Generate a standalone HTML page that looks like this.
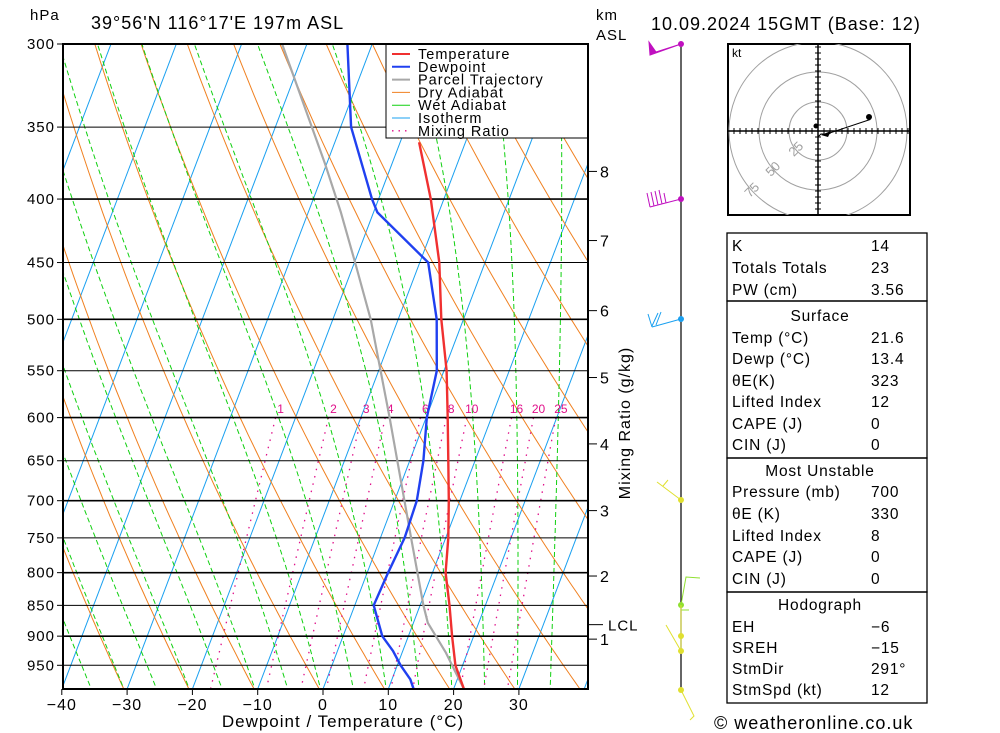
<!DOCTYPE html>
<html><head><meta charset="utf-8"><style>
html,body{margin:0;padding:0;background:#fff;}
svg{display:block;font-family:"Liberation Sans",sans-serif;}
</style></head><body>
<svg id="chart" width="1000" height="733" viewBox="0 0 1000 733" xmlns="http://www.w3.org/2000/svg">
<defs><clipPath id="plotclip"><rect x="63" y="44" width="525" height="645"/></clipPath>
<clipPath id="hodoclip"><rect x="728" y="44" width="182" height="171"/></clipPath></defs>
<g id="bg" clip-path="url(#plotclip)"></g>
<g id="plines"></g>
<g id="series" clip-path="url(#plotclip)"></g>
<g id="legend">
 <rect x="386" y="44" width="202" height="94" fill="#fff" stroke="#000" stroke-width="1"/>
</g>
<rect x="63" y="44" width="525" height="645" fill="none" stroke="#000" stroke-width="2"/>
<g id="axes"></g>
<g font-size="17" fill="#000" letter-spacing="1">
 <text x="30" y="20" font-size="15">hPa</text>
 <text x="91" y="29" font-size="18">39°56'N  116°17'E  197m  ASL</text>
 <text x="596" y="20" font-size="15">km</text>
 <text x="596" y="40" font-size="15">ASL</text>
 <text x="651" y="30" font-size="18">10.09.2024  15GMT  (Base: 12)</text>
 <text x="343" y="727" font-size="17" text-anchor="middle">Dewpoint / Temperature (°C)</text>
 <text transform="translate(630,423) rotate(-90)" font-size="16" text-anchor="middle">Mixing Ratio (g/kg)</text>
 <text x="714" y="729" font-size="18">© weatheronline.co.uk</text>
</g>
<g id="wind"></g>
<g id="hodo"></g>
<g id="table" font-size="15.5" letter-spacing="0.8"></g>
</svg>
<script>
const NS="http://www.w3.org/2000/svg";
// ---- data ----
const tempP=[360,400,450,500,550,600,650,700,750,800,850,900,950,993];
const tempT=[-17.1,-12.0,-7.0,-3.4,0.4,3.3,5.9,8.3,10.4,12.0,14.5,16.7,18.9,21.6];
const dewP=[300,350,400,410,450,500,550,600,650,700,750,800,850,900,925,950,975,993];
const dewT=[-33.8,-28.4,-21.0,-19.4,-8.7,-4.1,-1.1,0.1,2.1,3.4,3.7,3.2,2.9,6.0,8.5,10.5,12.8,13.9];
const parcelP=[300,375,410,450,500,600,750,850,878,928,993];
const parcelT=[-43.8,-30.2,-25.0,-19.9,-14.2,-5.6,4.7,10.5,12.2,16.7,21.6];
const pTicks=[300,350,400,450,500,550,600,650,700,750,800,850,900,950];
const tTicks=[-40,-30,-20,-10,0,10,20,30];
const kmLabels=["8","7","6","5","4","3","2","1"];
const kmP=[380,432,492,557,630,713,805,905];
const mixRatios=[1,2,3,4,6,8,10,16,20,25];
const lclP=881;
// ---- scales ----
function yP(p){return 44+539*Math.log(p/300);}
function xT(t,p){return 323+6.53*t+0.38*(689-yP(p));}
function mk(tag,attrs,parent){const e=document.createElementNS(NS,tag);for(const k in attrs)e.setAttribute(k,attrs[k]);parent.appendChild(e);return e;}
function pathFrom(pts){return pts.map((q,i)=>(i?'L':'M')+q[0].toFixed(1)+' '+q[1].toFixed(1)).join(' ');}
const bg=document.getElementById('bg');
for(let t=-130;t<=50;t+=10){
 const l=mk('line',{x1:xT(t,1000),y1:yP(1000),x2:xT(t,280),y2:yP(280),stroke:'#1aa0f0','stroke-width':1},bg);
 
 
}
for(let th=-60;th<=220;th+=10){
 const pts=[];for(let p=1000;p>=280;p-=10){pts.push([xT((th+273.15)*Math.pow(p/1000,0.286)-273.15,p),yP(p)]);}
 const e=mk('path',{d:pathFrom(pts),fill:'none',stroke:'#f08020','stroke-width':1},bg);
 
 
}
function es(T){return 6.112*Math.exp(17.67*(T-273.15)/(T-29.65));}
function wl(T,p){const e=es(T),rs=0.622*e/(p-e);return (287*T+2.5e6*rs)/(p*(1004+2.5e6*2.5e6*rs*0.622/(287*T*T)));}
for(let tw=-35;tw<=35;tw+=5){
 let T=tw+273.15,pts=[];
 for(let p=1000;p>=280;p-=5){pts.push([xT(T-273.15,p),yP(p)]);T-=wl(T,p)*5;}
 const e=mk('path',{d:pathFrom(pts),fill:'none',stroke:'#10d010','stroke-width':1,'stroke-dasharray':'5,3'},bg);
 
 
}
function tdFromW(w,p){const e=w*p/(622+w),l=Math.log(e/6.112);return 243.5*l/(17.67-l);}
mixRatios.forEach(w=>{
 const pts=[];for(let p=600;p<=1000;p+=10)pts.push([xT(tdFromW(w,p),p),yP(p)]);
 const e=mk('path',{d:pathFrom(pts),fill:'none',stroke:'#e0108a','stroke-width':1.3,'stroke-dasharray':'1.5,6'},bg);
 
 
 const t=mk('text',{x:xT(tdFromW(w,600),600)+5,y:413,'font-size':12,fill:'#e0108a','text-anchor':'middle'},bg);
 t.textContent=w;
 
 
});
const pl=document.getElementById('plines'),ax=document.getElementById('axes');
pTicks.forEach(p=>{
 const y=yP(p);
 const l=mk('line',{x1:63,y1:y,x2:588,y2:y,stroke:'#000','stroke-width':(p%100===0?1.6:1)},pl);
 
 
 mk('line',{x1:57,y1:y,x2:63,y2:y,stroke:'#000','stroke-width':1},ax);
 const t=mk('text',{x:55,y:y+5,'font-size':15,'text-anchor':'end','letter-spacing':1},ax);
 t.textContent=p;
 
 
});
tTicks.forEach(v=>{
 const x=323+6.53*v;
 mk('line',{x1:x,y1:689,x2:x,y2:695,stroke:'#000'},ax);
 const t=mk('text',{x:x,y:710,'font-size':16,'text-anchor':'middle','letter-spacing':1},ax);
 t.textContent=(v<0?'\u2212':'')+Math.abs(v);
 
 
});
kmLabels.forEach((k,i)=>{
 const y=yP(kmP[i]);
 mk('line',{x1:588,y1:y,x2:597,y2:y,stroke:'#000'},ax);
 const t=mk('text',{x:600,y:y+6,'font-size':16},ax);
 t.textContent=k;
 
 
});
{const y=yP(lclP);mk('line',{x1:588,y1:y,x2:603,y2:y,stroke:'#000'},ax);
 const t=mk('text',{x:608,y:y+6,'font-size':15,'letter-spacing':1},ax);t.textContent='LCL';
 
 }
const sr=document.getElementById('series');
function drawSeries(P,T,color,w,name){
 const e=mk('path',{d:pathFrom(P.map((p,i)=>[xT(T[i],p),yP(p)])),fill:'none',stroke:color,'stroke-width':w,'stroke-linejoin':'round'},sr);
 
 
}
drawSeries(parcelP,parcelT,'#a8a8a8',2.2,'parcel-trajectory-line');
drawSeries(tempP,tempT,'#f03030',2.4,'temperature-line');
drawSeries(dewP,dewT,'#2040f0',2.4,'dewpoint-line');
const lg=document.getElementById('legend');
const legItems=[['Temperature','#f03030',2,''],['Dewpoint','#2040f0',2,''],['Parcel Trajectory','#a8a8a8',2,''],['Dry Adiabat','#f08020',1,''],['Wet Adiabat','#10d010',1,''],['Isotherm','#1aa0f0',1,''],['Mixing Ratio','#e0108a',1.3,'1.5,5']];
legItems.forEach((it,i)=>{
 const y=54+12.8*i;
 const l=mk('line',{x1:392,y1:y,x2:410,y2:y,stroke:it[1],'stroke-width':it[2]},lg);
 if(it[3])l.setAttribute('stroke-dasharray',it[3]);
 const t=mk('text',{x:418,y:y+5,'font-size':14.5,'letter-spacing':1},lg);
 t.textContent=it[0];
 
 
});
const wd=document.getElementById('wind');
mk('line',{x1:681,y1:44,x2:681,y2:690,stroke:'#000','stroke-width':1.2},wd);
const windY=[44,199,319,500,605,636,651,690];
const windC=['#c010c0','#c010c0','#1aa0f0','#e0e030','#90e030','#e0e030','#e0e030','#e0e030'];
windY.forEach((y,i)=>{const c=mk('circle',{cx:681,cy:y,r:3,fill:windC[i]},wd);
 
 });
mk('path',{d:'M681 44 L650 55 L649 42 L656 52 Z',fill:'#c010c0',stroke:'#c010c0'},wd);
mk('path',{d:'M681 199 L650 207 M650 207 L647 193 M654 206 L651 192 M658 205 L655 191 M662 204 L659 190 M666 203 L664 193',fill:'none',stroke:'#c010c0'},wd);
mk('path',{d:'M681 319 L652 327 M652 327 L648 314 M652 326 L658 313 M656 325 L661 312',fill:'none',stroke:'#1aa0f0'},wd);
mk('path',{d:'M681 500 L657 482 M663 486 L668 480',fill:'none',stroke:'#e0e030'},wd);
mk('path',{d:'M681 605 L686 577 L700 578 M681 610 L689 610',fill:'none',stroke:'#90e030'},wd);
mk('path',{d:'M681 605 L681 651 L666 625 M681 690 L694 716 L690 720',fill:'none',stroke:'#e0e030'},wd);
const hd=document.getElementById('hodo');
mk('rect',{x:728,y:44,width:182,height:171,fill:'#fff',stroke:'#000','stroke-width':2},hd);
const cx=818,cy=131;
const hg=mk('g',{'clip-path':'url(#hodoclip)'},hd);
[29,59,89].forEach(r=>mk('circle',{cx:cx,cy:cy,r:r,fill:'none',stroke:'#a0a0a0'},hg));
mk('line',{x1:728,y1:cy,x2:910,y2:cy,stroke:'#000','stroke-width':1.5},hd);
mk('line',{x1:cx,y1:44,x2:cx,y2:215,stroke:'#000','stroke-width':1.5},hd);
let tk='';for(let d=-90;d<=90;d+=6){tk+=`M${cx+d} ${cy-3}v6M${cx-3} ${cy+d}h6`;}
mk('path',{d:tk,stroke:'#000',fill:'none'},hg);
[['25',799,152],['50',776,172],['75',755,193]].forEach(a=>{const t=mk('text',{x:a[1],y:a[2],'font-size':13,fill:'#a0a0a0',transform:`rotate(-45 ${a[1]} ${a[2]})`,'text-anchor':'middle'},hd);t.textContent=a[0];
 
 });
const hodoU=[0,1,3,18];const hodoV=[-1,0,0,5];
mk('path',{d:pathFrom(hodoU.map((u,i)=>[cx+2.9*u,cy+3-2.9*hodoV[i]])),stroke:'#000',fill:'none'},hd);
mk('circle',{cx:869,cy:117,r:3,fill:'#000'},hd);
mk('circle',{cx:816,cy:126,r:2.5,fill:'#000'},hd);
mk('path',{d:'M821 135 L831 131 L828 137 Z',fill:'#000'},hd);
const kt=mk('text',{x:732,y:57,'font-size':12},hd);kt.textContent='kt';
const tb=document.getElementById('table');
const boxes=[[233,301],[301,458],[458,592],[592,703]];
boxes.forEach(b=>mk('rect',{x:727,y:b[0],width:200,height:b[1]-b[0],fill:'none',stroke:'#000','stroke-width':1.3},tb));
const rows=[['K','14',251],['Totals Totals','23',273],['PW (cm)','3.56',295],
['Temp (°C)','21.6',343],['Dewp (°C)','13.4',364],['θE(K)','323',386],['Lifted Index','12',407],['CAPE (J)','0',429],['CIN (J)','0',450],
['Pressure (mb)','700',497],['θE (K)','330',519],['Lifted Index','8',541],['CAPE (J)','0',562],['CIN (J)','0',584],
['EH','\u22126',632],['SREH','\u221215',653],['StmDir','291°',674],['StmSpd (kt)','12',695]];
rows.forEach(r=>{
 const a=mk('text',{x:732,y:r[2]},tb);a.textContent=r[0];
 
 
 const b=mk('text',{x:871,y:r[2]},tb);b.textContent=r[1];
 
 
});
[['Surface',321],['Most Unstable',476],['Hodograph',610]].forEach(h=>{
 const t=mk('text',{x:820,y:h[1],'text-anchor':'middle'},tb);t.textContent=h[0];
 
 
});
</script>
</body></html>
